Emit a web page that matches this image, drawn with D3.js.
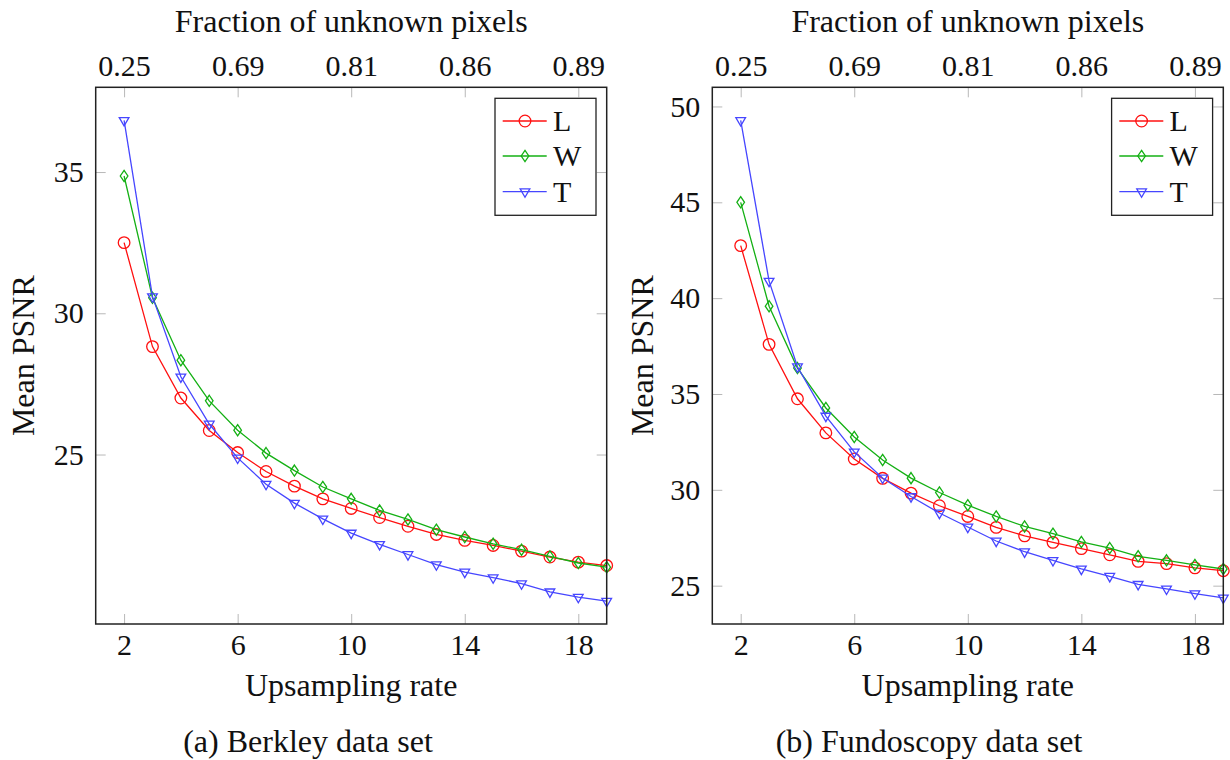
<!DOCTYPE html>
<html>
<head>
<meta charset="utf-8">
<script src="https://cdn.jsdelivr.net/npm/d3@7"></script>
<style>
  html, body { margin: 0; padding: 0; background: #fff; }
  svg { display: block; }
  text { font-family: "Liberation Serif", "DejaVu Serif", serif; fill: #111; }
</style>
</head>
<body>
<svg id="chart" width="1230" height="760"></svg>
<script>
// ---- data ----
const upsampling = [2, 3, 4, 5, 6, 7, 8, 9, 10, 11, 12, 13, 14, 15, 16, 17, 18, 19];
const xTicks = [2, 6, 10, 14, 18];
const fractionLabels = ["0.25", "0.69", "0.81", "0.86", "0.89"];
const seriesNames = ["L", "W", "T"];

const berkleyL = [32.50, 28.82, 27.00, 25.85, 25.07, 24.40, 23.88, 23.43, 23.09, 22.77, 22.46, 22.17, 21.96, 21.78, 21.58, 21.37, 21.19, 21.07];
const berkleyW = [34.86, 30.55, 28.34, 26.90, 25.86, 25.05, 24.43, 23.85, 23.43, 23.02, 22.70, 22.34, 22.08, 21.84, 21.63, 21.39, 21.16, 21.01];
const berkleyT = [36.83, 30.59, 27.75, 26.08, 24.88, 23.95, 23.28, 22.72, 22.22, 21.82, 21.46, 21.10, 20.84, 20.64, 20.43, 20.14, 19.95, 19.81];
const berkleyYTicks = [25, 30, 35];

const fundoL = [42.74, 37.59, 34.75, 32.97, 31.61, 30.60, 29.83, 29.17, 28.61, 28.04, 27.60, 27.26, 26.93, 26.61, 26.27, 26.15, 25.93, 25.78];
const fundoW = [45.00, 39.58, 36.35, 34.27, 32.76, 31.56, 30.61, 29.86, 29.20, 28.61, 28.09, 27.71, 27.28, 26.96, 26.53, 26.32, 26.08, 25.87];
const fundoT = [49.27, 40.89, 36.42, 33.85, 31.98, 30.62, 29.65, 28.79, 28.06, 27.33, 26.77, 26.32, 25.87, 25.49, 25.07, 24.83, 24.58, 24.36];
const fundoYTicks = [25, 30, 35, 40, 45, 50];

const colors = { L: "#ff1010", W: "#14b014", T: "#4646ff" };
const FONT = '"Liberation Serif", "DejaVu Serif", serif';

// ---- drawing ----
const svg = d3.select("#chart");

const panels = [
  { left: 95.7, right: 606.7, top: 87.3, bottom: 624, yDomain: [19, 38], yTicks: berkleyYTicks,
    data: { L: berkleyL, W: berkleyW, T: berkleyT }, ylabelX: 34, captionX: 308,
    caption: "(a) Berkley data set" },
  { left: 712.3, right: 1223.3, top: 87.3, bottom: 624, yDomain: [23, 51], yTicks: fundoYTicks,
    data: { L: fundoL, W: fundoW, T: fundoT }, ylabelX: 653, captionX: 929,
    caption: "(b) Fundoscopy data set" }
];

function drawMarker(sel, name, cx, cy) {
  const c = colors[name];
  if (name === "L") {
    sel.append("circle").attr("cx", cx).attr("cy", cy).attr("r", 5.8)
      .attr("fill", "none").attr("stroke", c).attr("stroke-width", 1.3);
  } else if (name === "W") {
    const hw = 3.8, hh = 5.6;
    sel.append("path")
      .attr("d", `M${cx},${cy - hh}L${cx + hw},${cy}L${cx},${cy + hh}L${cx - hw},${cy}Z`)
      .attr("fill", "none").attr("stroke", c).attr("stroke-width", 1.3);
  } else {
    const r = 5.6;
    const a = r * Math.cos(Math.PI / 6), b = r / 2;
    sel.append("path")
      .attr("d", `M${cx - a},${cy - b}L${cx + a},${cy - b}L${cx},${cy + r}Z`)
      .attr("fill", "none").attr("stroke", c).attr("stroke-width", 1.3);
  }
}

panels.forEach(p => {
  const x = d3.scaleLinear().domain([1, 19]).range([p.left, p.right]);
  const y = d3.scaleLinear().domain(p.yDomain).range([p.bottom, p.top]);
  const g = svg.append("g");
  const cx = (p.left + p.right) / 2;
  const cy = (p.top + p.bottom) / 2;

  const styleAxis = (ax) => {
    ax.attr("font-family", FONT).attr("font-size", 30);
    ax.select(".domain").remove();
    ax.selectAll(".tick line").attr("stroke", "#b8b8b8").attr("stroke-width", 1);
    ax.selectAll(".tick text").attr("font-family", FONT).attr("font-size", 30).attr("fill", "#111");
  };
  g.append("g").attr("transform", `translate(0,${p.bottom})`)
    .call(d3.axisBottom(x).tickValues(xTicks).tickSize(-10).tickPadding(10).tickFormat(d3.format("d")))
    .call(styleAxis);
  g.append("g").attr("transform", `translate(0,${p.top})`)
    .call(d3.axisTop(x).tickValues(xTicks).tickSize(-10).tickPadding(11)
      .tickFormat((d, i) => fractionLabels[i]))
    .call(styleAxis);
  g.append("g").attr("transform", `translate(${p.left},0)`)
    .call(d3.axisLeft(y).tickValues(p.yTicks).tickSize(-10).tickPadding(12).tickFormat(d3.format("d")))
    .call(styleAxis);
  g.append("g").attr("transform", `translate(${p.right},0)`)
    .call(d3.axisRight(y).tickValues(p.yTicks).tickSize(-10).tickFormat(""))
    .call(styleAxis);

  const clipId = "clip" + Math.round(p.left);
  svg.append("clipPath").attr("id", clipId).append("rect")
    .attr("x", p.left - 8).attr("y", p.top).attr("width", p.right - p.left + 16).attr("height", p.bottom - p.top);
  const plot = g.append("g").attr("clip-path", `url(#${clipId})`);
  const line = d3.line().x((d, i) => x(upsampling[i])).y(d => y(d));
  seriesNames.forEach(name => {
    const vals = p.data[name];
    plot.append("path").datum(vals).attr("d", line)
      .attr("fill", "none").attr("stroke", colors[name]).attr("stroke-width", 1.3);
    const mg = plot.append("g");
    vals.forEach((v, i) => drawMarker(mg, name, x(upsampling[i]), y(v)));
  });

  g.append("rect").attr("x", p.left).attr("y", p.top)
    .attr("width", p.right - p.left).attr("height", p.bottom - p.top)
    .attr("fill", "none").attr("stroke", "#222").attr("stroke-width", 1.5);

  const lw = 101, lh = 117;
  const lx = p.right - 10.7 - lw, ly = p.top + 11;
  const lg = g.append("g");
  lg.append("rect").attr("x", lx).attr("y", ly).attr("width", lw).attr("height", lh)
    .attr("fill", "#fff").attr("stroke", "#222").attr("stroke-width", 1.3);
  const rowY = [22.7, 57.7, 93.4];
  seriesNames.forEach((name, i) => {
    const ry = ly + rowY[i];
    lg.append("line").attr("x1", lx + 7.7).attr("x2", lx + 51.7).attr("y1", ry).attr("y2", ry)
      .attr("stroke", colors[name]).attr("stroke-width", 1.3);
    drawMarker(lg, name, lx + 30, ry);
    lg.append("text").attr("x", lx + 58).attr("y", ry + 10)
      .attr("font-family", FONT).attr("font-size", 30).text(name);
  });

  const label = (sel) => sel.attr("font-family", FONT).attr("font-size", 32).attr("text-anchor", "middle");
  g.append("text").attr("x", cx).attr("y", 32).call(label).text("Fraction of unknown pixels");
  g.append("text").attr("x", cx).attr("y", 696).call(label).text("Upsampling rate");
  g.append("text").attr("transform", `translate(${p.ylabelX},${cy}) rotate(-90)`).call(label).text("Mean PSNR");
  g.append("text").attr("x", p.captionX).attr("y", 752).call(label).text(p.caption);
});
</script>
</body>
</html>
